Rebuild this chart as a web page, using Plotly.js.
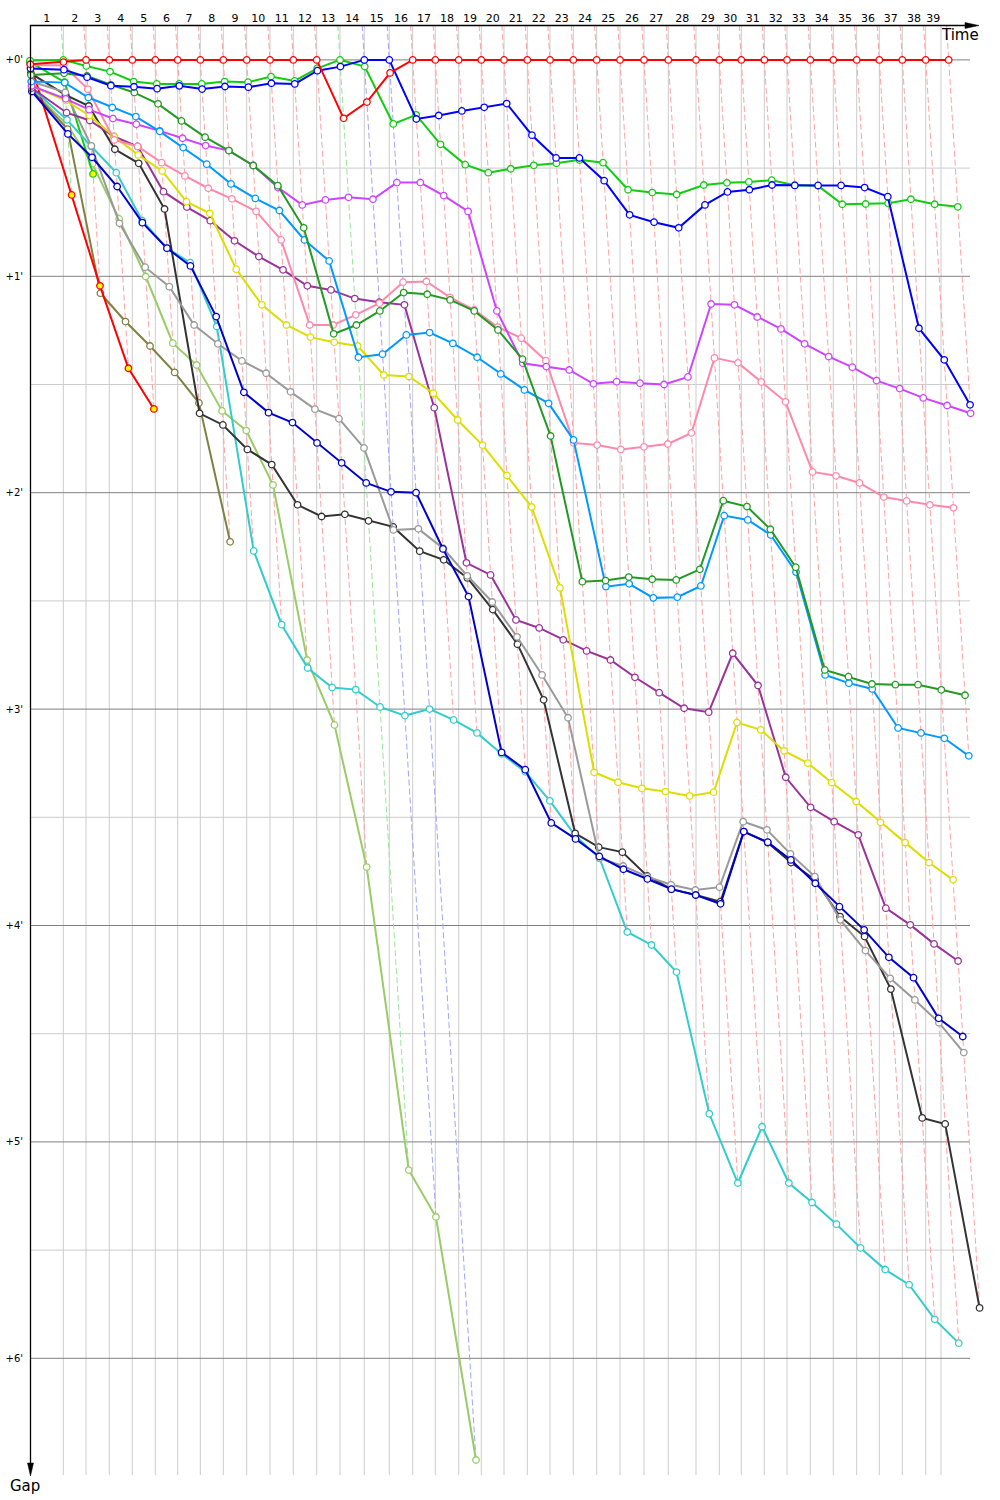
<!DOCTYPE html>
<html><head><meta charset="utf-8">
<script src="https://cdn.plot.ly/plotly-3.0.1.min.js"></script>
<style>html,body{margin:0;padding:0;background:#fff}</style>
</head><body><div id="chart" style="width:1000px;height:1500px"></div>
<script>
// ---- data (minutes) ----
const lapLabels = Array.from({length:39},(_,i)=>String(i+1));
const leaderCum = [0, 2.485, 4.179, 5.918, 7.634, 9.351, 11.022, 12.709, 14.425, 16.172, 17.910, 19.649, 21.396, 23.134, 24.948, 26.813, 28.560, 30.246, 31.993, 33.679, 35.373, 37.112, 38.806, 40.545, 42.291, 44.030, 45.821, 47.634, 49.701, 51.440, 53.082, 54.799, 56.493, 58.231, 59.948, 61.694, 63.381, 65.097, 66.843, 68.560];
const raceEndTime = 67.985;
const yTickVals = [0,1,2,3,4,5,6];
const yTickLabels = ["+0'","+1'","+2'","+3'","+4'","+5'","+6'"];

const gapRed = [0.02,0.01,0,0,0,0,0,0,0,0,0,0,0,0.27,0.195,0.06,0,0,0,0,0,0,0,0,0,0,0,0,0,0,0,0,0,0,0,0,0,0,0,0];
const gapBlue = [0.04,0.045,0.08,0.119,0.124,0.133,0.12,0.135,0.123,0.126,0.108,0.111,0.05,0.031,0,0,0.273,0.257,0.236,0.219,0.202,0.348,0.453,0.453,0.558,0.716,0.75,0.776,0.67,0.61,0.60,0.578,0.58,0.58,0.58,0.59,0.632,1.24,1.386,1.594];
const gapGreen = [0.003,0,0.028,0.054,0.10,0.111,0.111,0.111,0.1,0.103,0.077,0.097,0.039,0,0.031,0.296,0.254,0.39,0.484,0.521,0.503,0.487,0.478,0.462,0.475,0.60,0.613,0.622,0.578,0.568,0.564,0.556,0.579,0.582,0.667,0.666,0.662,0.644,0.667,0.679];
const gapDarkGreen = [0.07,0.062,0.074,0.115,0.151,0.203,0.282,0.357,0.419,0.488,0.581,0.776,1.266,1.225,1.16,1.075,1.083,1.109,1.16,1.248,1.383,1.738,2.411,2.406,2.39,2.40,2.403,2.354,2.037,2.064,2.169,2.344,2.819,2.85,2.884,2.887,2.887,2.911,2.936];
const gapLightBlue = [0.1,0.105,0.174,0.22,0.262,0.33,0.405,0.482,0.573,0.64,0.696,0.832,0.929,1.374,1.36,1.271,1.26,1.31,1.374,1.451,1.525,1.587,1.756,2.434,2.421,2.486,2.483,2.431,2.106,2.126,2.195,2.367,2.842,2.88,2.907,3.087,3.11,3.135,3.216];
const gapMagenta = [0.12,0.18,0.23,0.271,0.297,0.328,0.362,0.396,0.419,0.488,0.59,0.67,0.647,0.635,0.644,0.567,0.567,0.627,0.70,1.16,1.402,1.417,1.433,1.497,1.487,1.494,1.50,1.465,1.128,1.132,1.188,1.243,1.312,1.371,1.42,1.482,1.519,1.562,1.597,1.633];
const gapPink = [0.023,0.026,0.135,0.37,0.40,0.475,0.536,0.593,0.642,0.70,0.832,1.225,1.225,1.178,1.124,1.027,1.024,1.097,1.155,1.235,1.286,1.39,1.77,1.78,1.80,1.788,1.775,1.724,1.377,1.40,1.488,1.58,1.904,1.922,1.955,2.02,2.038,2.056,2.07];
const gapYellow = [0.12,0.188,0.257,0.354,0.439,0.513,0.655,0.709,0.967,1.132,1.225,1.281,1.305,1.322,1.456,1.463,1.54,1.664,1.78,1.92,2.066,2.44,3.292,3.338,3.366,3.381,3.401,3.384,3.062,3.096,3.193,3.25,3.34,3.427,3.523,3.617,3.709,3.789];
const gapPurple = [0.13,0.244,0.28,0.354,0.40,0.609,0.68,0.743,0.836,0.909,0.97,1.044,1.063,1.103,1.12,1.132,1.607,2.324,2.38,2.588,2.625,2.68,2.731,2.773,2.853,2.924,2.996,3.014,2.742,2.891,3.315,3.454,3.52,3.581,3.92,3.997,4.085,4.164];
const gapNavy = [0.146,0.342,0.45,0.585,0.752,0.87,0.952,1.186,1.536,1.63,1.676,1.77,1.862,1.955,1.996,2.0,2.26,2.48,3.2,3.28,3.526,3.60,3.681,3.74,3.785,3.832,3.859,3.9,3.566,3.615,3.697,3.805,3.913,4.02,4.147,4.241,4.429,4.513];
const gapGray = [0.10,0.15,0.397,0.755,0.958,1.048,1.225,1.312,1.391,1.448,1.534,1.614,1.658,1.793,2.172,2.167,2.256,2.384,2.505,2.666,2.842,3.04,3.689,3.725,3.774,3.812,3.836,3.823,3.52,3.558,3.669,3.774,3.974,4.116,4.244,4.344,4.449,4.587];
const gapBlack = [0.062,0.162,0.213,0.413,0.478,0.689,1.633,1.687,1.80,1.87,2.056,2.11,2.10,2.13,2.158,2.27,2.31,2.394,2.54,2.70,2.957,3.574,3.638,3.661,3.771,3.832,3.859,3.89,3.566,3.617,3.709,3.789,3.959,4.051,4.294,4.889,4.917,5.767];
const gapCyan = [0.13,0.277,0.40,0.521,0.743,0.87,0.937,1.232,2.269,2.61,2.81,2.90,2.91,2.99,3.03,3.0,3.05,3.11,3.207,3.29,3.424,3.586,3.688,4.03,4.09,4.215,4.87,5.19,4.93,5.19,5.28,5.38,5.49,5.59,5.66,5.82,5.93];
const gapYellowGreen = [0.14,0.30,0.48,0.735,1.001,1.309,1.41,1.622,1.713,1.964,2.773,3.073,3.73,5.13,5.347,6.47];
const gapOlive = [0.14,0.32,1.078,1.209,1.322,1.444,1.585,2.227];
const gapRedYellow = [0.015,0.624,1.044,1.425,1.613];
const gapGreenYellow = [0.01,0.103,0.527];

// drawn bottom to top
const drivers = [
  {gaps: gapYellowGreen, color:'#99cc66', fill:'#ffffff'},
  {gaps: gapOlive, color:'#808040', fill:'#ffffff'},
  {gaps: gapRedYellow, color:'#ff0000', fill:'#ffff00'},
  {gaps: gapGreenYellow, color:'#11cc11', fill:'#ffff00'},
  {gaps: gapCyan, color:'#33cccc', fill:'#ffffff'},
  {gaps: gapBlack, color:'#333333', fill:'#ffffff'},
  {gaps: gapGray, color:'#999999', fill:'#ffffff'},
  {gaps: gapNavy, color:'#0000cc', fill:'#ffffff'},
  {gaps: gapPurple, color:'#993399', fill:'#ffffff'},
  {gaps: gapYellow, color:'#dddd00', fill:'#ffffff'},
  {gaps: gapPink, color:'#ff88aa', fill:'#ffffff'},
  {gaps: gapMagenta, color:'#cc44ff', fill:'#ffffff'},
  {gaps: gapLightBlue, color:'#0099ff', fill:'#ffffff'},
  {gaps: gapDarkGreen, color:'#229922', fill:'#ffffff'},
  {gaps: gapGreen, color:'#11cc11', fill:'#ffffff'},
  {gaps: gapBlue, color:'#0000ff', fill:'#ffffff'},
  {gaps: gapRed, color:'#ff0000', fill:'#ffffff'}
];

// ---- geometry (pixel layout) ----
const W = 1000, H = 1500;
const M = {l:30, r:10, t:25, b:22};
const pxPerMinX = 13.4, pxPerMinY = 216.4;
const plotW = W - M.l - M.r, plotH = H - M.t - M.b;
const xRange = [0, plotW / pxPerMinX];
const yTop = -(59.9 - M.t) / pxPerMinY;
const yBottom = yTop + plotH / pxPerMinY;
const px2x = p => (p - M.l) / plotW;
const py2y = p => 1 - (p - M.t) / plotH;
const lighten = {'#ff0000':'#ffa3a3', '#11cc11':'#99e699', '#0000ff':'#a3a3ff'};

const traces = [];
// lap lines (same-lap connectors), coloured by leader of that lap
for (let n = 1; n < leaderCum.length; n++) {
  let gmax = -Infinity, lead = null, gmin = Infinity;
  [...drivers].reverse().forEach(d => {
    if (d.gaps[n] === undefined) return;
    if (d.gaps[n] > gmax) gmax = d.gaps[n];
    if (d.gaps[n] < gmin) { gmin = d.gaps[n]; lead = d; }
  });
  traces.push({
    x: [leaderCum[n] + yTop, leaderCum[n] + gmax], y: [yTop, gmax],
    mode: 'lines', hoverinfo: 'skip', showlegend: false, cliponaxis: false,
    line: {color: lighten[lead.color] || '#ffa3a3', width: 1, dash: '6px,3px'}
  });
}
drivers.forEach(d => {
  traces.push({
    x: d.gaps.map((g, i) => leaderCum[i] + g), y: d.gaps,
    mode: 'lines+markers', hoverinfo: 'skip', showlegend: false, cliponaxis: false,
    line: {color: d.color, width: 2},
    marker: {symbol: 'circle', size: 6.5, color: d.fill, line: {color: d.color, width: 1.3}}
  });
});

const shapes = [];
// vertical lap grid
const gridTimes = leaderCum.slice(1, 39).concat([raceEndTime]);
const vBottom = (1475 - 59.9) / pxPerMinY;
gridTimes.forEach(t => shapes.push({type:'line', layer:'below', x0:t, x1:t, y0:yTop, y1:vBottom, line:{color:'#cccccc', width:1}}));
// horizontal gap grid
const hRight = (970 - M.l) / pxPerMinX;
for (let m = 0.5; m < 6; m += 1) shapes.push({type:'line', layer:'below', x0:0, x1:hRight, y0:m, y1:m, line:{color:'#cccccc', width:1}});
yTickVals.forEach(m => shapes.push({type:'line', layer:'below', x0:0, x1:hRight, y0:m, y1:m, line:{color:'#808080', width:1}}));
// axes with arrows
shapes.push({type:'line', xref:'paper', yref:'paper', x0:px2x(30), x1:px2x(968), y0:py2y(25.5), y1:py2y(25.5), line:{color:'#000', width:1.3}});
shapes.push({type:'line', xref:'paper', yref:'paper', x0:px2x(30.5), x1:px2x(30.5), y0:py2y(25), y1:py2y(1466), line:{color:'#000', width:1.3}});
shapes.push({type:'path', xref:'paper', yref:'paper', fillcolor:'#000', line:{color:'#000', width:0.5},
  path:`M ${px2x(979)} ${py2y(25.5)} L ${px2x(965)} ${py2y(22.5)} L ${px2x(965)} ${py2y(28.5)} Z`});
shapes.push({type:'path', xref:'paper', yref:'paper', fillcolor:'#000', line:{color:'#000', width:0.5},
  path:`M ${px2x(30.5)} ${py2y(1476)} L ${px2x(27.5)} ${py2y(1463)} L ${px2x(33.5)} ${py2y(1463)} Z`});

const tickMids = [];
const bounds = [0].concat(gridTimes);
for (let i = 0; i < lapLabels.length; i++) tickMids.push((bounds[i] + bounds[i+1]) / 2);

const layout = {
  width: W, height: H, margin: M,
  paper_bgcolor: '#fff', plot_bgcolor: '#fff',
  font: {family: 'DejaVu Sans, Verdana, sans-serif', color: '#000'},
  showlegend: false,
  xaxis: {range: xRange, side: 'top', tickvals: tickMids, ticktext: lapLabels, ticks: '',
          showgrid: false, zeroline: false, showline: false, tickfont: {size: 11}, fixedrange: true},
  yaxis: {range: [yBottom, yTop], tickvals: yTickVals, ticktext: yTickLabels, ticks: '',
          showgrid: false, zeroline: false, showline: false, tickfont: {size: 10}, ticklabelstandoff: 6, fixedrange: true},
  shapes: shapes,
  annotations: [
    {xref:'paper', yref:'paper', x:px2x(960), y:py2y(35), text:'Time', showarrow:false, font:{size:15}, xanchor:'center', yanchor:'middle'},
    {xref:'paper', yref:'paper', x:px2x(25), y:py2y(1486), text:'Gap', showarrow:false, font:{size:15}, xanchor:'center', yanchor:'middle'}
  ]
};
Plotly.newPlot('chart', traces, layout, {staticPlot: true, displayModeBar: false});
</script>
</body></html>
